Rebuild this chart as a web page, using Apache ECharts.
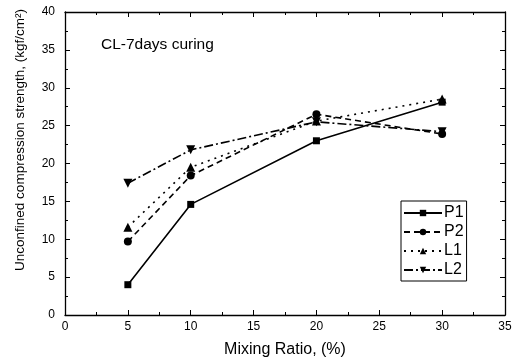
<!DOCTYPE html>
<html><head><meta charset="utf-8">
<script src="https://cdn.jsdelivr.net/npm/echarts@6/dist/echarts.min.js"></script>
<style>html,body{margin:0;padding:0;background:#fff}#c{width:516px;height:363px}</style>
</head><body><div id="c"></div>
<script>
const mixingRatio = [5, 10, 20, 30];
const P1 = [4.0, 14.6, 23.0, 28.1];
const P2 = [9.7, 18.4, 26.5, 23.9];
const L1 = [11.6, 19.5, 25.6, 28.5];
const L2 = [17.4, 21.8, 25.5, 24.2];
const seriesNames = ['P1', 'P2', 'L1', 'L2'];
const xAxisTitle = 'Mixing Ratio, (%)';
const yAxisTitle = 'Unconfined compression strength, (kgf/cm²)';
const chartNote = 'CL-7days curing';

const font = 'Liberation Sans, Arial, sans-serif';
const chart = echarts.init(document.getElementById('c'));
function pairs(v){ return mixingRatio.map((x,i)=>[x, v[i]]); }
const styles = [
  {sym:'rect', size:7, type:'solid'},
  {sym:'circle', size:8, type:[6,4]},
  {sym:'triangle', size:9, type:[2,5]},
  {sym:'path://M0,0 L10,0 L5,10 Z', size:9, type:[9,3,2,3]}
];
const vals = [P1, P2, L1, L2];
const axisCommon = {
  axisLine:{show:true, onZero:false, lineStyle:{color:'#000', width:1.3}},
  axisTick:{show:true, inside:true, length:5, lineStyle:{color:'#000'}},
  minorTick:{show:true, splitNumber:2, length:3, lineStyle:{color:'#000'}},
  splitLine:{show:false}
};
chart.setOption({
  animation:false,
  textStyle:{fontFamily:font},
  title:{text:chartNote, left:96, top:32, textStyle:{fontSize:15.5, fontWeight:'normal', color:'#000', fontFamily:font}},
  legend:{
    orient:'vertical', left:401, top:201, data:seriesNames,
    itemWidth:38, itemHeight:8, itemGap:3,
    padding:[4,3,3,2],
    borderColor:'#000', borderWidth:1, backgroundColor:'#fff',
    textStyle:{fontSize:16, color:'#000', fontFamily:font, padding:[0,0,0,-3]}
  },
  grid:{left:65, right:11, top:12, bottom:46},
  graphic:[{
    type:'text', x:20, y:140, rotation:Math.PI/2,
    style:{text:yAxisTitle, font:'13.5px ' + font, fill:'#000', align:'center', verticalAlign:'middle'}
  }],
  xAxis:[
    Object.assign({type:'value', min:0, max:35, interval:5, position:'bottom',
      name:xAxisTitle, nameLocation:'middle', nameGap:27,
      nameTextStyle:{fontSize:16, color:'#000', fontFamily:font},
      axisLabel:{fontSize:12, color:'#000', margin:6, fontFamily:font}}, axisCommon),
    Object.assign({type:'value', min:0, max:35, interval:5, position:'top', axisLabel:{show:false}}, axisCommon)
  ],
  yAxis:[
    Object.assign({type:'value', min:0, max:40, interval:5, position:'left',
      axisLabel:{fontSize:12, color:'#000', margin:10, fontFamily:font}}, axisCommon),
    Object.assign({type:'value', min:0, max:40, interval:5, position:'right', axisLabel:{show:false}}, axisCommon)
  ],
  series: seriesNames.map((n,i)=>({
    name:n, type:'line', data:pairs(vals[i]),
    symbol:styles[i].sym, symbolSize:styles[i].size,
    itemStyle:{color:'#000'},
    lineStyle:{color:'#000', width:1.6, type:styles[i].type}
  }))
});
</script></body></html>
